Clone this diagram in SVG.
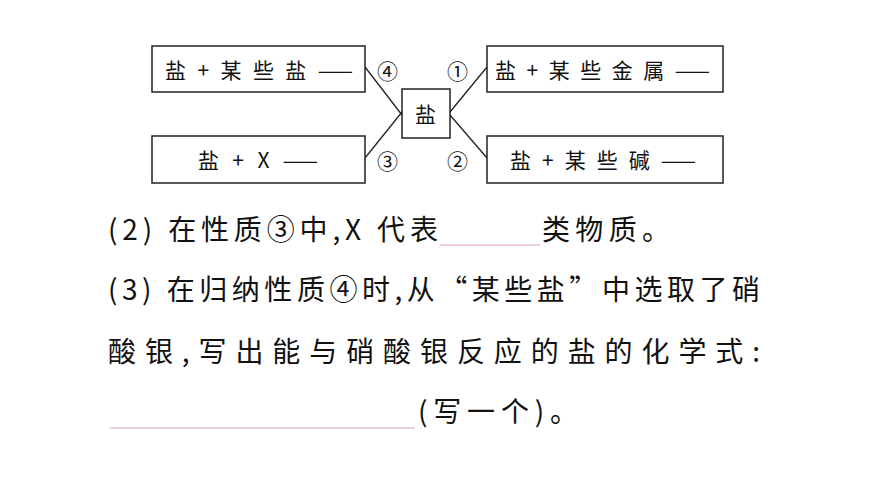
<svg xmlns="http://www.w3.org/2000/svg" width="870" height="489" viewBox="0 0 870 489">
<style>
.b{fill:#fff;stroke:#222;stroke-width:1.5}
.t{font-family:"Noto Sans CJK SC","Liberation Serif",serif;font-size:21px;fill:#111}
.q{font-family:"Noto Sans CJK SC","Liberation Sans",sans-serif;font-size:28px;fill:#111}
.c{stroke:#222;stroke-width:1.3;fill:none}
.u{stroke:#d9a0b8;stroke-width:1.2}
</style>
<rect width="870" height="489" fill="#fff"/>
<g id="connectors">
<line class="c" x1="365" y1="67" x2="402" y2="115"/>
<line class="c" x1="365" y1="158" x2="402" y2="112"/>
<line class="c" x1="450" y1="112" x2="487" y2="67"/>
<line class="c" x1="450" y1="115" x2="487" y2="158"/>
</g>
<g id="n1"><rect class="b" x="152" y="46" width="213" height="46"/><text class="t" x="165" y="78" textLength="188" lengthAdjust="spacing">盐+某些盐——</text></g>
<g id="n2"><rect class="b" x="487" y="46" width="236" height="46"/><text class="t" x="495" y="78" textLength="215" lengthAdjust="spacing">盐+某些金属——</text></g>
<g id="n3"><rect class="b" x="152" y="136" width="213" height="47"/><text class="t" x="198" y="168" textLength="120" lengthAdjust="spacing">盐+X——</text></g>
<g id="n4"><rect class="b" x="487" y="136" width="236" height="47"/><text class="t" x="510" y="168" textLength="186" lengthAdjust="spacing">盐+某些碱——</text></g>
<g id="center"><rect class="b" x="402" y="89" width="48" height="49"/><text class="t" x="415" y="122">盐</text></g>
<text class="t" x="377" y="79">④</text>
<text class="t" x="447" y="79">①</text>
<text class="t" x="377" y="169">③</text>
<text class="t" x="447" y="169">②</text>
<text class="q" x="108" y="240" textLength="330" lengthAdjust="spacing">(2) 在性质③中,X 代表</text>
<line class="u" x1="440" y1="245" x2="540" y2="245"/>
<text class="q" x="542" y="240" textLength="128" lengthAdjust="spacing">类物质。</text>
<text class="q" x="108" y="300" textLength="652" lengthAdjust="spacing">(3) 在归纳性质④时,从“某些盐”中选取了硝</text>
<text class="q" x="108" y="362" textLength="652" lengthAdjust="spacing">酸银,写出能与硝酸银反应的盐的化学式:</text>
<line class="u" x1="110" y1="428" x2="415" y2="428"/>
<text class="q" x="418" y="422" textLength="160" lengthAdjust="spacing">(写一个)。</text>
</svg>
